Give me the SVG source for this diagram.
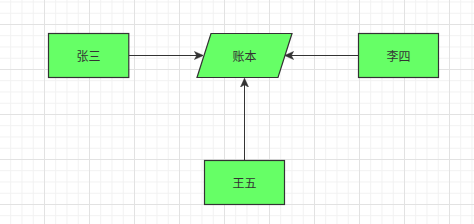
<svg xmlns="http://www.w3.org/2000/svg" width="474" height="224" viewBox="0 0 474 224">
<style>
.node{fill:#66ff66;stroke:#333333;stroke-width:1.2}
.lbl{font-family:"Noto Sans CJK SC","Noto Sans",sans-serif;font-size:12px;fill:#333333;text-anchor:middle;dominant-baseline:central}
.edge{stroke:#333333;stroke-width:1;fill:none}
</style>
<defs>
<pattern id="minor" patternUnits="userSpaceOnUse" x="10.25" y="1.5" width="11.25" height="11.25">
<path d="M0.5 0V11.25M0 0.5H11.25" stroke="#f1f1f1" stroke-width="1" fill="none"/>
</pattern>
<pattern id="major" patternUnits="userSpaceOnUse" x="44" y="24" width="45" height="45">
<path d="M0.5 0V45M0 0.5H45" stroke="#e2e2e2" stroke-width="1" fill="none"/>
</pattern>
<marker id="arr" viewBox="0 0 10 10" refX="9" refY="5" markerWidth="9" markerHeight="9" markerUnits="userSpaceOnUse" orient="auto">
<path d="M0 0.5L10 5L0 9.5L2.5 5Z" fill="#333333" stroke="#333333" stroke-width="0.5"/>
</marker>
</defs>
<rect width="474" height="224" fill="#ffffff"/>
<rect width="474" height="224" fill="url(#minor)"/>
<rect width="474" height="224" fill="url(#major)"/>
<g id="connectors">
<path class="edge" d="M128.8 55.5H202.5" marker-end="url(#arr)"/>
<path class="edge" d="M358.5 55.5H285.5" marker-end="url(#arr)"/>
<path class="edge" d="M244.5 160.5V79" marker-end="url(#arr)"/>
</g>
<g id="zhangsan">
<rect class="node" x="48.5" y="33.5" width="80.3" height="44"/>
<text class="lbl" x="88.6" y="55.5">张三</text>
</g>
<g id="zhangben">
<path class="node" d="M211 33.5H292L278 77.5H197Z"/>
<text class="lbl" x="244.5" y="55.5">账本</text>
</g>
<g id="lisi">
<rect class="node" x="358.5" y="33.5" width="80" height="44"/>
<text class="lbl" x="398.5" y="55.5">李四</text>
</g>
<g id="wangwu">
<rect class="node" x="204.5" y="160.5" width="80" height="44"/>
<text class="lbl" x="244.5" y="182.5">王五</text>
</g>
</svg>
